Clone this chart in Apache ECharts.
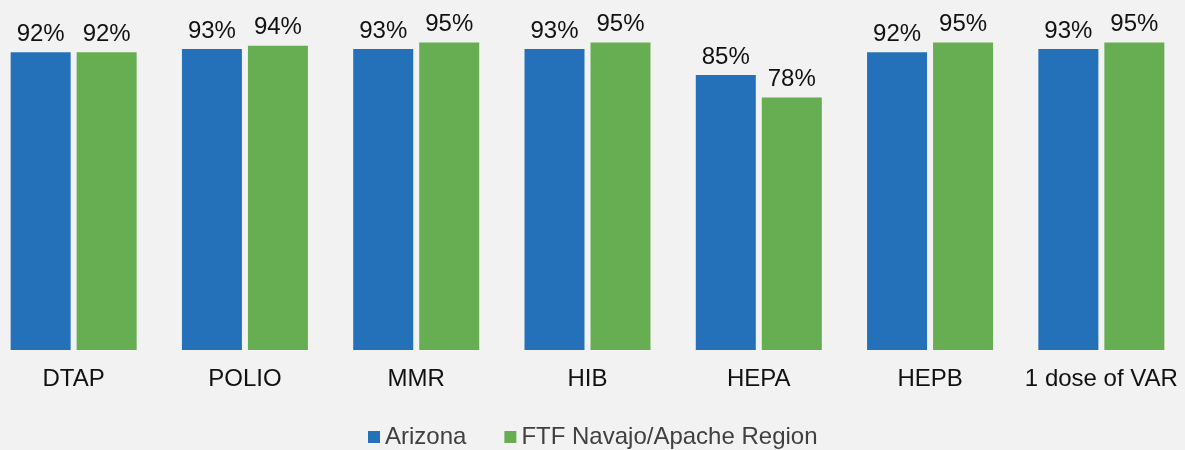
<!DOCTYPE html>
<html>
<head>
<meta charset="utf-8">
<script src="https://cdn.jsdelivr.net/npm/echarts@6/dist/echarts.min.js"></script>
<style>
  html, body { margin: 0; padding: 0; background: #f2f2f2; overflow: hidden; }
  #wrap { position: relative; width: 1185px; height: 450px; overflow: hidden; }
  /* canvas is slightly wider than the page so the outer category bands bleed off the edges */
  #chart { position: absolute; left: -12.4px; top: 0; width: 1199px; height: 450px; }
</style>
</head>
<body>
<div id="wrap"><div id="chart"></div></div>
<script>
// Immunization coverage by vaccine, percent
const categories = ['DTAP', 'POLIO', 'MMR', 'HIB', 'HEPA', 'HEPB', '1 dose of VAR'];
const seriesNames = ['Arizona', 'FTF Navajo/Apache Region'];
const arizona = [92, 93, 93, 93, 85, 92, 93];
const navajoApache = [92, 94, 95, 95, 78, 95, 95];

const FONT = '"Liberation Sans", Arial, sans-serif';
const BLUE = '#2470b9';
const GREEN = '#67ad52';

const labelStyle = {
  show: true,
  position: 'top',
  distance: 6,
  color: '#111',
  fontFamily: FONT,
  fontSize: 24,
  formatter: p => p.value + '%'
};

const chart = echarts.init(document.getElementById('chart'), null, { renderer: 'canvas' });
chart.setOption({
  backgroundColor: '#f2f2f2',
  animation: false,
  grid: { left: 0, right: 0, top: 26.4, bottom: 100, containLabel: false },
  legend: {
    data: seriesNames,
    top: 420,
    left: 375,
    icon: 'rect',
    itemWidth: 12,
    itemHeight: 12,
    itemGap: 38,
    textStyle: { color: '#404040', fontFamily: FONT, fontSize: 24 }
  },
  xAxis: {
    type: 'category',
    data: categories,
    axisLine: { show: false },
    axisTick: { show: false },
    axisLabel: { color: '#111', fontFamily: FONT, fontSize: 24, margin: 17, interval: 0 }
  },
  yAxis: {
    type: 'value',
    min: 0,
    max: 100,
    show: false,
    splitLine: { show: false }
  },
  series: [
    {
      name: seriesNames[0],
      type: 'bar',
      data: arizona,
      barWidth: 60,
      barGap: '10%',
      itemStyle: { color: BLUE },
      label: labelStyle
    },
    {
      name: seriesNames[1],
      type: 'bar',
      data: navajoApache,
      barWidth: 60,
      barGap: '10%',
      itemStyle: { color: GREEN },
      label: labelStyle
    }
  ]
});
</script>
</body>
</html>
